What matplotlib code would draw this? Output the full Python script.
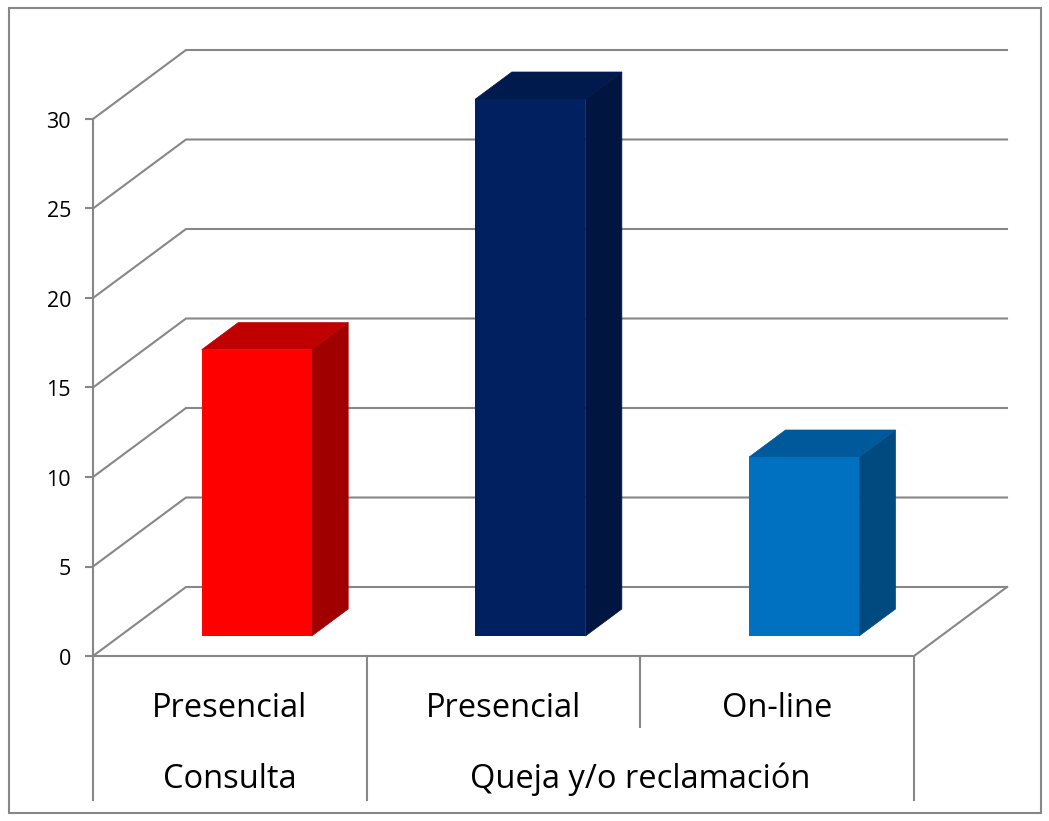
import matplotlib
matplotlib.use("Agg")
import matplotlib.pyplot as plt
from matplotlib.patches import Polygon, Rectangle

# ---- data ----
sub_labels = ["Presencial", "Presencial", "On-line"]
group_labels = ["Consulta", "Queja y/o reclamación"]
group_spans = [(0, 1), (1, 3)]
values = [16, 30, 10]
y_ticks = [0, 5, 10, 15, 20, 25, 30]
front_colors = ["#FF0000", "#002060", "#0070C0"]
top_colors = ["#C00000", "#001A4D", "#00599A"]
side_colors = ["#A00000", "#001540", "#004A80"]

W, H = 1049, 821
fig = plt.figure(figsize=(W / 100, H / 100), dpi=100)
ax = fig.add_axes([0, 0, 1, 1])

# map: front-plane origin at pixel (93, 656); 273.67 px per category, 17.9 px per unit
PX_CAT = 273.67
PX_VAL = 17.9
X0, Y0 = 93, 656
ax.set_xlim((0 - X0) / PX_CAT, (W - X0) / PX_CAT)
ax.set_ylim((Y0 - H) / PX_VAL, Y0 / PX_VAL)
ax.axis("off")

DX = 93 / PX_CAT      # depth offset in category units
DY = 69 / PX_VAL      # depth offset in value units


def P(x, y, d):
    return (x + d * DX, y + d * DY)


grid_c = "#878787"
lw = 1.5
ncat = len(values)
ymax = y_ticks[-1]

# gridlines: left wall diagonal + back wall horizontal
for t in y_ticks:
    pts = [P(0, t, 0), P(0, t, 1), P(ncat, t, 1)]
    ax.plot([p[0] for p in pts], [p[1] for p in pts], color=grid_c, lw=lw,
            solid_joinstyle="miter", zorder=1)
    ax.plot([-7 / PX_CAT, 0], [t, t], color=grid_c, lw=lw, zorder=1)
    ax.text(-22 / PX_CAT, t - 3 / PX_VAL, str(t), ha="right", va="center",
            fontsize=15.5, family="Open Sans", color="black")

# floor front and right edge
pts = [P(0, 0, 0), P(ncat, 0, 0), P(ncat, 0, 1)]
ax.plot([p[0] for p in pts], [p[1] for p in pts], color=grid_c, lw=lw, zorder=1)
# front axis line
ax.plot([0, 0], [0, ymax], color=grid_c, lw=lw, zorder=1)

# bars
bw = 110 / PX_CAT
df, db = 20 / 69, 47 / 69
for i, v in enumerate(values):
    xl = i + 0.5 - bw / 2
    xr = i + 0.5 + bw / 2
    front = [P(xl, 0, df), P(xr, 0, df), P(xr, v, df), P(xl, v, df)]
    top = [P(xl, v, df), P(xr, v, df), P(xr, v, db), P(xl, v, db)]
    side = [P(xr, 0, df), P(xr, 0, db), P(xr, v, db), P(xr, v, df)]
    ax.add_patch(Polygon(side, closed=True, fc=side_colors[i], ec=side_colors[i],
                         lw=0.5, zorder=3))
    ax.add_patch(Polygon(top, closed=True, fc=top_colors[i], ec=top_colors[i],
                         lw=0.5, zorder=3))
    ax.add_patch(Polygon(front, closed=True, fc=front_colors[i], ec="none", zorder=4))

# category table
row1_bottom = (Y0 - 727) / PX_VAL
row2_bottom = (Y0 - 800) / PX_VAL
for x in [0, 1, 3]:
    ax.plot([x, x], [0, row2_bottom], color=grid_c, lw=lw, zorder=1)
for x in [2]:
    ax.plot([x, x], [0, row1_bottom], color=grid_c, lw=lw, zorder=1)

y_sub = (Y0 - 708) / PX_VAL
y_grp = (Y0 - 779) / PX_VAL
for i, lab in enumerate(sub_labels):
    ax.text(i + 0.5, y_sub, lab, ha="center", va="center", fontsize=23.5,
            family="Open Sans", color="black")
for lab, (a, b) in zip(group_labels, group_spans):
    ax.text((a + b) / 2, y_grp, lab, ha="center", va="center", fontsize=23.5,
            family="Open Sans", color="black")

# outer border
fig.add_artist(Rectangle((9 / W, 1 - 813 / H), (1041 - 9) / W, (813 - 8) / H,
                         transform=fig.transFigure, fill=False, ec="#878787", lw=1.5))

fig.savefig("out.png", dpi=100)
